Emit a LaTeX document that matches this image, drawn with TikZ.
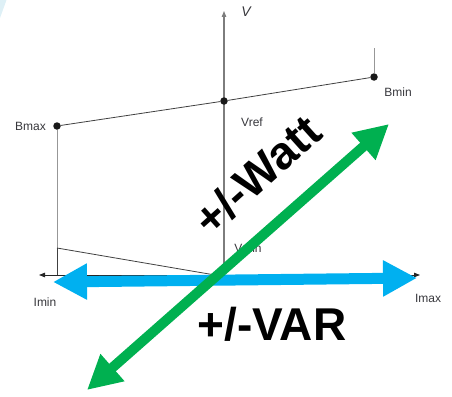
\documentclass[tikz,border=0pt]{standalone}
\usepackage{fontspec}
\setmainfont{Liberation Sans}
\usetikzlibrary{arrows.meta, positioning, calc, backgrounds}
\definecolor{axisgray}{RGB}{125, 125, 125}
\definecolor{labelgray}{RGB}{55, 55, 60}
\definecolor{varblue}{RGB}{0, 176, 240}
\definecolor{wattgreen}{RGB}{0, 176, 80}
\definecolor{cornertint}{RGB}{222, 240, 246}

\begin{document}
\begin{tikzpicture}[
    x=1pt, y=-1pt,
    font=\fontsize{12}{14}\selectfont,
    % Define styles
    dot/.style = {circle, fill=black!90, inner sep=0pt, minimum size=7.5pt},
    lbl/.style = {text=labelgray, inner sep=0pt},
    vaxis/.style = {draw=axisgray, line width=1.1pt, -{Triangle[length=6pt, width=4.5pt]}},
    haxis/.style = {draw=black!85, line width=0.8pt, {Triangle[length=6pt, width=4.5pt]}-{Triangle[length=6pt, width=4.5pt]}},
    droop/.style = {draw=black!75, line width=0.8pt},
    guide/.style = {draw=axisgray!80, line width=1pt},
    bigarrow/.style = {line width=11pt, {Triangle[length=34pt, width=34pt]}-{Triangle[length=34pt, width=34pt]}},
    bigtext/.style = {font=\fontsize{46}{54}\selectfont\bfseries, inner sep=0pt}
]
\useasboundingbox (0,0) rectangle (452,396);

% Coordinates
\coordinate (origin) at (224,275);
\coordinate (vtop) at (224,11);
\coordinate (hleft) at (39,275);
\coordinate (hright) at (420,275);
\coordinate (vmin) at (57,248);
\coordinate (minfoot) at (57,275);
\coordinate (mintop) at (374,48);

% Nodes
\node [dot] (bmax) at (57,126) {};
\node [dot] (vref) at (224,101) {};
\node [dot] (bmin) at (374,77) {};

\node [lbl, left=7pt of bmax] (bmaxlbl) {Bmax};
\node [lbl] (bminlbl) at (398,92) {Bmin};
\node [lbl] (vreflbl) at (252,122) {Vref};
\node [lbl] (vminlbl) at (248,248) {Vmin};
\node [lbl] (iminlbl) at (45,302) {Imin};
\node [lbl] (imaxlbl) at (428,298) {Imax};
\node [lbl, font=\fontsize{14}{16}\selectfont\itshape] (vlbl) at (246,12) {V};

% Axes and droop lines
\begin{scope}[on background layer]
\fill[cornertint] (0,0) -- (6.5,0) -- (0,18) -- cycle;
\draw [vaxis] (origin) -- (vtop);
\draw [haxis] (hleft) -- (hright);
\draw [droop] (bmax) -- (vref) -- (bmin);
\draw [guide] (bmin) -- (mintop);
\draw [guide] (bmax) -- (vmin);
\draw [droop] (vmin) -- (minfoot);
\draw [droop] (vmin) -- (215,275);
\end{scope}

% Arrows
\coordinate (varleft) at (53,282);
\coordinate (varright) at (417,278);
\coordinate (wattlow) at (87,390);
\coordinate (watthigh) at (389,124);
\draw [bigarrow, varblue] (varleft) -- (varright);
\draw [bigarrow, wattgreen, line width=10pt] (wattlow) -- (watthigh);

% Labels
\node [bigtext, rotate=42] (watt) at (257,175) {+/-Watt};
\node [bigtext] (var) at (272,324) {+/-VAR};

\end{tikzpicture}
\end{document}
